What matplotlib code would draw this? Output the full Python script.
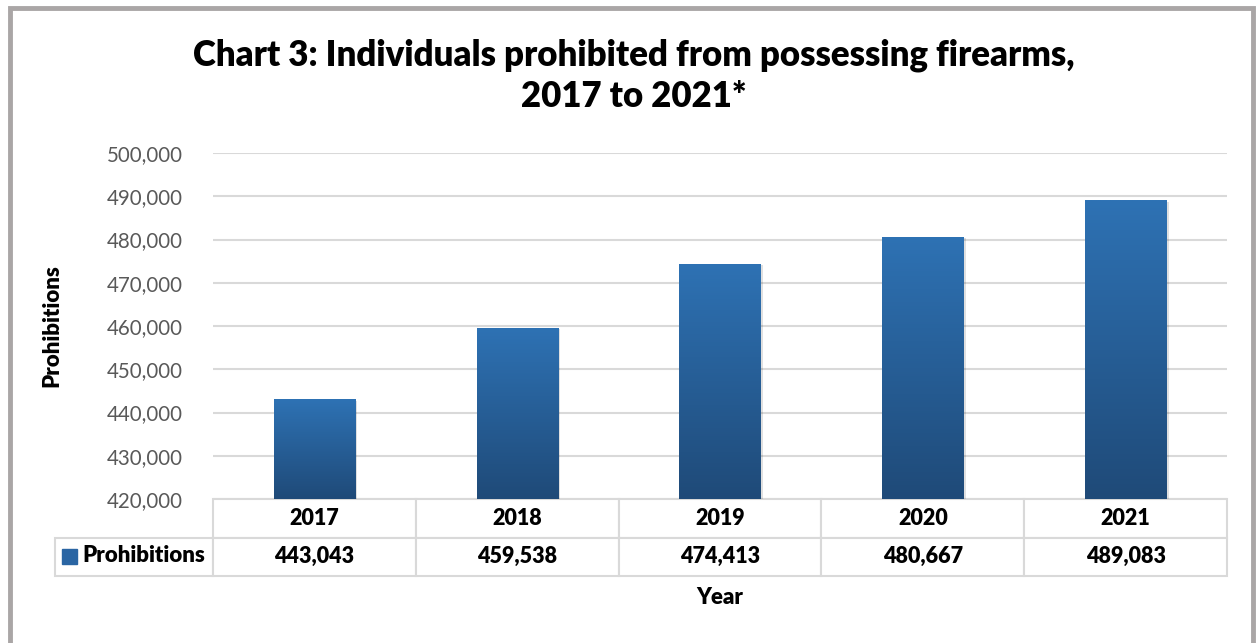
import numpy as np
import matplotlib.pyplot as plt
from matplotlib.patches import Rectangle
from matplotlib.colors import LinearSegmentedColormap

years = ['2017', '2018', '2019', '2020', '2021']
prohibitions = [443043, 459538, 474413, 480667, 489083]
series_name = 'Prohibitions'
y_ticks = list(range(420000, 500001, 10000))

plt.rcParams['font.family'] = ['Lato', 'DejaVu Sans']
BOLD = 'heavy'

W, H = 1257, 643
fig = plt.figure(figsize=(W / 100, H / 100), dpi=100)

# plot area in pixels: x 213..1227, y 153..499
ax = fig.add_axes([213 / W, 1 - 499 / H, 1014 / W, 346 / H])
x = np.arange(len(years))
bw = 0.4

bars = ax.bar(x, prohibitions, width=bw, color='none', zorder=3)
cmap = LinearSegmentedColormap.from_list('blue_grad', ['#1f4a78', '#2e72b4'])
grad = np.linspace(0, 1, 256).reshape(-1, 1)
for xi, v, b in zip(x, prohibitions, bars):
    # soft shadow
    ax.add_patch(Rectangle((xi - bw / 2 + 0.012, y_ticks[0]), bw, v - y_ticks[0] - 300,
                           color='#000000', alpha=0.12, zorder=2, lw=0))
    im = ax.imshow(grad, cmap=cmap, aspect='auto', origin='lower',
                   extent=[xi - bw / 2, xi + bw / 2, y_ticks[0], v], zorder=3)
    im.set_clip_path(b)

ax.set_xlim(-0.5, len(years) - 0.5)
ax.set_ylim(y_ticks[0], y_ticks[-1])
ax.set_yticks(y_ticks)
ax.set_yticklabels([f'{t:,}' for t in y_ticks], color='#595959', fontsize=14.8)
ax.tick_params(axis='y', length=0, pad=22)
ax.set_xticks([])
ax.yaxis.grid(True, color='#d9d9d9', lw=1.5)
ax.set_axisbelow(True)
for s in ax.spines.values():
    s.set_visible(False)

ax.set_ylabel('Prohibitions', fontsize=16, fontweight=BOLD)
ax.yaxis.set_label_coords(-(213 - 62) / 1014, 0.5)

# data table under the plot
label_w = 158 / 1014
cell_text = [[''] + years, [''] + [f'{v:,}' for v in prohibitions]]
tbl = ax.table(cellText=cell_text, cellLoc='center',
               colWidths=[label_w] + [1 / len(years)] * len(years),
               bbox=[-label_w, -77 / 346, 1 + label_w, 77 / 346])
tbl.auto_set_font_size(False)
for (r, c), cell in tbl.get_celld().items():
    cell.set_edgecolor('#d9d9d9')
    cell.set_linewidth(1.5)
    cell.get_text().set_fontsize(15.5)
    cell.get_text().set_fontweight(BOLD)
    if r == 0 and c == 0:
        cell.visible_edges = ''

ax.add_patch(Rectangle(((62 - 213) / 1014, (499 - 564) / 346), 15 / 1014, 15 / 346,
                       transform=ax.transAxes, clip_on=False, color='#2a65a3', zorder=5))
ax.text((82 - 213) / 1014, (499 - 556) / 346, series_name, transform=ax.transAxes,
        fontsize=16, fontweight=BOLD, ha='left', va='center')

fig.text(720 / W, 1 - 597 / H, 'Year', fontsize=16, fontweight=BOLD,
         ha='center', va='center')

fig.text(634 / W, 1 - 76 / H, 'Chart 3: Individuals prohibited from possessing firearms,\n2017 to 2021*',
         fontsize=25, fontweight=BOLD, ha='center', va='center', linespacing=1.3)

# outer frame
fig.add_artist(Rectangle((10 / W, -0.01), (1253 - 10) / W, 1 - 8 / H + 0.01,
                         transform=fig.transFigure, fill=False,
                         edgecolor='#aaa6a6', lw=3.5))

fig.savefig('out.png', dpi=100)
